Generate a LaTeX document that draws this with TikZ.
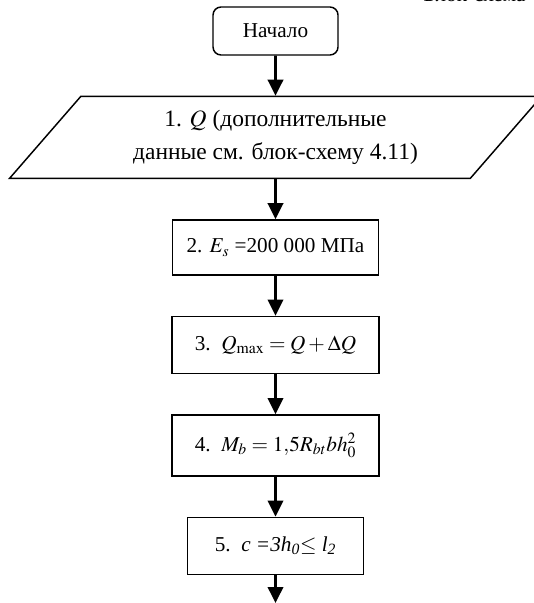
\documentclass[tikz,border=0pt]{standalone}
\usepackage{mathptmx}
\usepackage{fontspec}
\setmainfont{Liberation Serif}
\usetikzlibrary{arrows.meta, positioning, shapes.geometric}

\begin{document}
\begin{tikzpicture}[x=0.75pt, y=-0.75pt, node distance=30pt,
  font=\fontsize{15.9}{24.5}\selectfont,
  every node/.style={line width=1.1pt, inner sep=0pt, align=center},
  flow/.style={draw, line width=1.9pt, -{Triangle[width=11.5pt, length=12pt]}}]

\useasboundingbox (0,0) rectangle (533,603);

\node [anchor=base west] (title) at (423,2) {Блок-схема};

\node [draw, rectangle, rounded corners=6pt, minimum width=93.75pt, minimum height=36pt] (start) at (275.5,31) {Начало};
\node [draw, trapezium, trapezium left angle=37.5, trapezium right angle=142.5, trapezium stretches body,
       minimum width=399pt, minimum height=61.5pt, below=of start,
       font=\fontsize{17.6}{25}\selectfont] (input) {1. $Q$ (дополнительные\\данные см. блок-схему 4.11)};
\node [draw, rectangle, minimum width=154.5pt , minimum height=41.25pt, below=of input] (es)   {2. $E_s$ =200 000 МПа};
\node [draw, rectangle, minimum width=155.25pt, minimum height=42.75pt, below=of es   ] (qmax) {3.\ \ $Q_{\max} = Q + \Delta Q$};
\node [draw, rectangle, minimum width=155.25pt, minimum height=45.75pt, below=of qmax ] (mb)   {4.\ \ $M_b = 1{,}5R_{bt}bh_0^2$};
\node [draw, rectangle, minimum width=132pt   , minimum height=42.75pt, below=of mb   ] (cc)   {5.\ \ \textit{c =3h\textsubscript{0}$\le$ l\textsubscript{2}}};
\coordinate (end) at (275.5,603);

\path [flow] (start) edge (input);
\path [flow] (input) edge (es);
\path [flow] (es)    edge (qmax);
\path [flow] (qmax)  edge (mb);
\path [flow] (mb)    edge (cc);
\path [flow] (cc)    edge (end);

\end{tikzpicture}
\end{document}
